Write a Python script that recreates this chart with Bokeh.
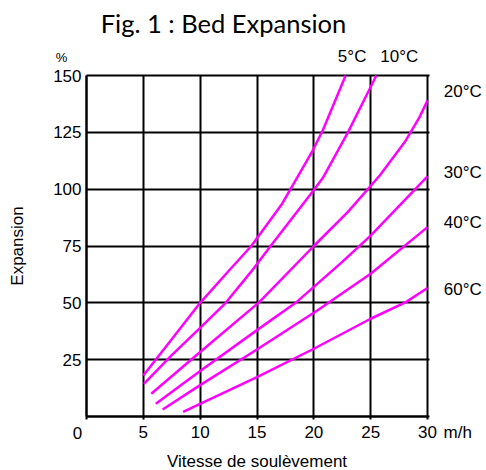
from bokeh.plotting import figure
from bokeh.models import Label, FixedTicker, Range1d
from bokeh.embed import file_html
from bokeh.resources import INLINE

# ---- data ----
temps = ["5°C", "10°C", "20°C", "30°C", "40°C", "60°C"]
x_5 = [5.0, 7.5, 10, 12.5, 14.5, 17.2, 19.9, 20.8, 22.8]
y_5 = [18, 34, 50, 64, 75, 93.5, 117, 126, 150]
x_10 = [5.05, 7.5, 10, 12.25, 14.45, 16.2, 19.9, 20.8, 23.0, 24.7, 25.5]
y_10 = [14.4, 27, 39, 50, 63.5, 75, 99, 105, 125, 142, 150]
x_20 = [5.7, 10, 15.2, 20, 23, 25.8, 28, 29.3, 30]
y_20 = [10, 28.4, 50.3, 75, 90, 106, 120.7, 131.7, 139]
x_30 = [6.1, 10, 15, 18.4, 20, 22.5, 25, 30]
y_30 = [5.6, 20, 38, 50, 57, 68, 79.6, 105.6]
x_40 = [6.7, 10, 15, 20.3, 25, 30]
y_40 = [3.1, 13.8, 29.5, 46.6, 62.8, 83.3]
x_60 = [8.5, 9.9, 15, 20, 25, 28.1, 30]
y_60 = [2, 5.3, 17.3, 29.8, 43, 50.3, 56.5]

x_ticks = [0, 5, 10, 15, 20, 25, 30]
y_ticks = [25, 50, 75, 100, 125, 150]
y_grid = [0, 25, 50, 75, 100, 125, 150]
x_min, x_max = 0, 30
y_min, y_max = 0, 150

series_x = [x_5, x_10, x_20, x_30, x_40, x_60]
series_y = [y_5, y_10, y_20, y_30, y_40, y_60]

# ---- layout (positions of annotations, data units) ----
label_pos = [(23.37, 158.2, "center"), (27.52, 158.2, "center"),
             (31.43, 143.0, "left"), (31.43, 107.3, "left"),
             (31.43, 85.3, "left"), (31.43, 55.9, "left")]

W, H = 486, 470
# pixel box of the chart area inside the canvas
BOX_L, BOX_R, BOX_T, BOX_B = 86, 427, 75, 416
sx = (BOX_R - BOX_L) / (x_max - x_min)
sy = (BOX_B - BOX_T) / (y_max - y_min)
xr = Range1d(x_min - BOX_L / sx, x_max + (W - BOX_R) / sx)
yr = Range1d(y_min - (H - BOX_B) / sy, y_max + BOX_T / sy)

FONT = "Liberation Sans"
MAGENTA = "#FF00FF"

p = figure(width=W, height=H, x_range=xr, y_range=yr, title=None,
           output_backend="svg", toolbar_location=None, min_border=0)
p.background_fill_color = "white"
p.border_fill_color = "white"
p.outline_line_color = None

# grid
xgt = FixedTicker(ticks=x_ticks)
ygt = FixedTicker(ticks=y_grid)
p.xgrid.ticker = xgt
p.ygrid.ticker = ygt
has_cb = "cross_bounds" in p.xgrid.properties()
if has_cb:
    p.xgrid.cross_bounds = (y_min, y_max)
    p.ygrid.cross_bounds = (x_min, x_max + 0.2)
    for g in (p.xgrid, p.ygrid):
        g.grid_line_color = "black"
        g.grid_line_width = 2
        g.grid_line_alpha = 1
else:
    p.xgrid.visible = False
    p.ygrid.visible = False
    p.segment(x0=x_ticks, y0=[y_min] * len(x_ticks), x1=x_ticks, y1=[y_max] * len(x_ticks),
              line_color="black", line_width=2)
    p.segment(x0=[x_min] * len(y_grid), y0=y_grid, x1=[x_max] * len(y_grid), y1=y_grid,
              line_color="black", line_width=2)

# axes fixed on the chart box
for ax in (p.xaxis, p.yaxis):
    ax.axis_line_color = "black"
    ax.axis_line_width = 2
    ax.minor_tick_line_color = None
    ax.major_label_text_font = FONT
    ax.major_label_text_font_size = "17px"
    ax.major_label_text_color = "black"
    ax.axis_label_text_font = FONT
    ax.axis_label_text_font_size = "17px"
    ax.axis_label_text_font_style = "normal"
    ax.axis_label_text_color = "black"

p.xaxis.fixed_location = y_min
p.xaxis.bounds = (x_min, x_max)
p.xaxis.ticker = FixedTicker(ticks=x_ticks)
p.xaxis.major_tick_line_color = "black"
p.xaxis.major_tick_line_width = 2
p.xaxis.major_tick_out = 3
p.xaxis.major_tick_in = 0
p.xaxis.major_label_standoff = 6
p.xaxis.major_label_overrides = {0: ""}
p.xaxis.axis_label = "Vitesse de soulèvement"
p.xaxis.axis_label_standoff = 11

p.yaxis.fixed_location = x_min
p.yaxis.bounds = (y_min, y_max)
p.yaxis.ticker = FixedTicker(ticks=y_ticks)
p.yaxis.major_tick_line_color = None
p.yaxis.major_tick_out = 0
p.yaxis.major_tick_in = 0
p.yaxis.major_label_standoff = 5
p.yaxis.axis_label = "Expansion"
p.yaxis.axis_label_standoff = 23

# curves
for xs, ys in zip(series_x, series_y):
    p.line(xs, ys, line_color=MAGENTA, line_width=2.5)

# temperature labels
for t, (lx, ly, al) in zip(temps, label_pos):
    p.add_layout(Label(x=lx, y=ly, text=t, text_align=al, text_baseline="middle",
                       text_font=FONT, text_font_size="17px", text_color="black"))

# origin "0", unit "m/h" and "%"
p.add_layout(Label(x=-0.79, y=-7.04, text="0", text_align="center", text_baseline="middle",
                   text_font=FONT, text_font_size="17px", text_color="black"))
p.add_layout(Label(x=31.41, y=-7.04, text="m/h", text_align="left", text_baseline="middle",
                   text_font=FONT, text_font_size="17px", text_color="black"))
p.add_layout(Label(x=-2.2, y=157.9, text="%", text_align="center", text_baseline="middle",
                   text_font=FONT, text_font_size="13px", text_color="black"))

# title
p.add_layout(Label(x=12.05, y=173.0, text="Fig. 1 : Bed Expansion", text_align="center",
                   text_baseline="alphabetic", text_font="Lato", text_font_size="25.5px",
                   text_color="black"))

open("out.html", "w").write(file_html(p, INLINE))
